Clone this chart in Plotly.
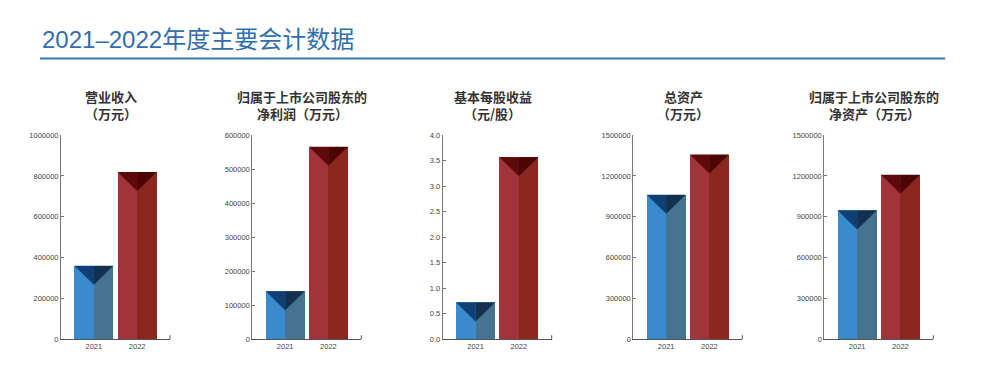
import plotly.graph_objects as go

# ---------------- data ----------------
years = ["2021", "2022"]
title_line1 = ["营业收入", "归属于上市公司股东的", "基本每股收益", "总资产", "归属于上市公司股东的"]
title_line2 = ["（万元）", "净利润（万元）", "（元/股）", "（万元）", "净资产（万元）"]
revenue = [360000, 820000]
net_profit = [141000, 566000]
eps = [0.72, 3.57]
total_assets = [1062000, 1358000]
net_assets = [947000, 1210000]
series = [revenue, net_profit, eps, total_assets, net_assets]

y_max = [1000000, 600000, 4.0, 1500000, 1500000]
y_step = [200000, 100000, 0.5, 300000, 300000]
y_fmt = ["d", "d", ".1f", "d", "d"]

main_title = "2021–2022年度主要会计数据"

# ---------------- style / layout ----------------
W, H = 1000, 392
panel_left_px = [61, 252.3, 442.7, 633.3, 824.3]
panel_w_px = 109
plot_top_px, plot_bot_px = 134.3, 343.0
x_range = [-0.76, 1.76]
bar_w = 0.9

blue = ["#3a8bcd", "#46738f", "#0f3f74", "#13304e"]
red = ["#a2333a", "#8a2820", "#5c0a0b", "#4b0505"]
palettes = [blue, red]

fig = go.Figure()

plot_h_px = plot_bot_px - plot_top_px
unit_px = panel_w_px / (x_range[1] - x_range[0])
tri_px = bar_w / 2 * unit_px

for k in range(5):
    sfx = "" if k == 0 else str(k + 1)
    xa, ya = "x" + sfx, "y" + sfx
    vals = series[k]
    d = tri_px * y_max[k] / plot_h_px
    for i, v in enumerate(vals):
        pal = palettes[i]
        fig.add_trace(go.Bar(x=[i - bar_w / 4], y=[v], width=bar_w / 2,
                             marker=dict(color=pal[0], line=dict(width=0)),
                             xaxis=xa, yaxis=ya, hoverinfo="skip", showlegend=False))
        fig.add_trace(go.Bar(x=[i + bar_w / 4], y=[v], width=bar_w / 2,
                             marker=dict(color=pal[1], line=dict(width=0)),
                             xaxis=xa, yaxis=ya, hoverinfo="skip", showlegend=False))
        fig.add_trace(go.Scatter(x=[i - bar_w / 2, i, i, i - bar_w / 2],
                                 y=[v, v, v - d, v], mode="lines", fill="toself",
                                 fillcolor=pal[2], line=dict(width=0, color=pal[2]),
                                 xaxis=xa, yaxis=ya, hoverinfo="skip", showlegend=False))
        fig.add_trace(go.Scatter(x=[i, i + bar_w / 2, i, i],
                                 y=[v, v, v - d, v], mode="lines", fill="toself",
                                 fillcolor=pal[3], line=dict(width=0, color=pal[3]),
                                 xaxis=xa, yaxis=ya, hoverinfo="skip", showlegend=False))

    left = panel_left_px[k]
    n_ticks = int(round(y_max[k] / y_step[k])) + 1
    tickvals = [j * y_step[k] for j in range(n_ticks)]
    fig.layout["xaxis" + sfx] = dict(
        domain=[left / W, (left + panel_w_px) / W], range=x_range, anchor=ya,
        tickvals=[0, 1], ticktext=years, showline=True, linecolor="#555",
        linewidth=1, ticks="", showgrid=False, zeroline=False, fixedrange=True,
        tickfont=dict(family="Liberation Sans", size=7.5, color="#444"),
    )
    fig.layout["yaxis" + sfx] = dict(
        domain=[1 - plot_bot_px / H, 1 - plot_top_px / H], range=[0, y_max[k]],
        anchor=xa, tickvals=tickvals, tickformat=y_fmt[k], showline=True,
        linecolor="#777", linewidth=1, ticks="inside", ticklen=3, tickcolor="#777",
        showgrid=False, zeroline=False, fixedrange=True,
        tickfont=dict(family="Liberation Sans", size=7.5, color="#444"),
    )
    cx = (left + panel_w_px / 2 - 4.5) / W
    for text, ypx in ((title_line1[k], 95), (title_line2[k], 112)):
        fig.add_annotation(x=cx, y=1 - ypx / H, xref="paper", yref="paper", text=text,
                           showarrow=False, xanchor="center", yanchor="middle",
                           font=dict(family="Noto Sans CJK SC", size=13, color="#333",
                                     weight="bold"))
    fig.add_shape(type="line", xref=xa + " domain", yref=ya + " domain",
                  x0=1, x1=1, y0=0, y1=4 / plot_h_px,
                  line=dict(color="#555", width=1))

fig.add_annotation(x=40 / W, y=1 - 36 / H, xref="paper", yref="paper",
                   text=main_title, showarrow=False, xanchor="left", yanchor="middle",
                   font=dict(family="Liberation Sans, Noto Sans CJK SC", size=24, color="#2f6fad"))
fig.add_shape(type="line", xref="paper", yref="paper", x0=40 / W, x1=945 / W,
              y0=1 - 55.7 / H, y1=1 - 55.7 / H, line=dict(color="#3a78b5", width=2))

fig.update_layout(width=W, height=H, margin=dict(l=0, r=0, t=0, b=0),
                  paper_bgcolor="white", plot_bgcolor="white", barmode="overlay",
                  bargap=0, showlegend=False)

fig.write_html("out.html", config={"displayModeBar": False, "staticPlot": True},
               post_script="document.body.style.margin='0';document.body.style.overflow='hidden';")
